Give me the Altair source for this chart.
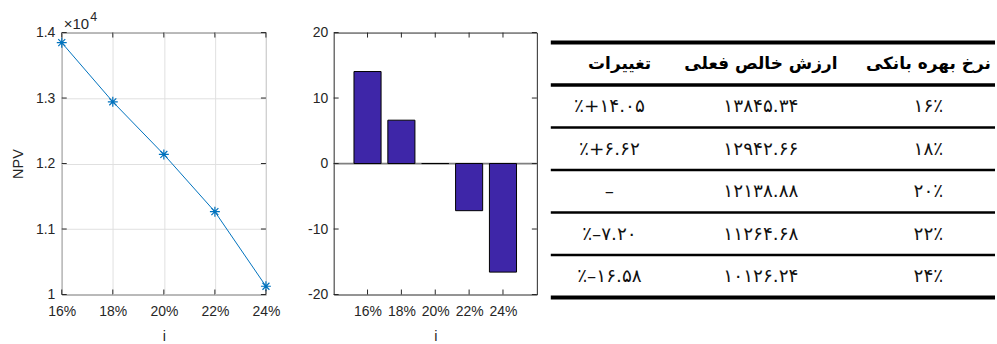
import altair as alt
import pandas as pd

# Bank interest rates (%) and the resulting net present value
rates = [16, 18, 20, 22, 24]
npv = [13845.34, 12942.66, 12138.88, 11264.68, 10126.24]
# Percentage change of NPV against the 20% base case
change = [14.05, 6.62, 0.0, -7.20, -16.58]

# Axis ticks
rate_ticks = [16, 18, 20, 22, 24]
npv_ticks = [10000, 11000, 12000, 13000, 14000]
change_ticks = [-20, -10, 0, 10, 20]

# Table header (left to right)
headers = ["تغییرات", "ارزش خالص فعلی", "نرخ بهره بانکی"]

FA = str.maketrans("0123456789", "۰۱۲۳۴۵۶۷۸۹")


def fa(s):
    return s.translate(FA)


rate_txt = [fa(str(r)) + "٪" for r in rates]
npv_txt = [fa(f"{v:.2f}") for v in npv]
change_txt = ["–" if c == 0 else "٪" + fa(f"{c:+.2f}").replace("-", "–") for c in change]

df = pd.DataFrame({"rate": rates, "npv": npv, "change": change})

# ---- layout constants -------------------------------------------------
H = 263
W1, W2, W3 = 205, 204, 392
INK = "#262626"
BLUE = "#0072BD"
BAR = "#3E26A8"
TICK = 5

axis_style = dict(
    labelFont="Liberation Sans", labelFontSize=14, labelColor=INK,
    titleFont="Liberation Sans", titleFontSize=14.5, titleColor=INK,
    titleFontWeight="normal", ticks=False, tickSize=0, domain=False,
    labelFlush=False,
)


def inward_ticks(xvals, yvals, xscale, yscale, w):
    """Short MATLAB-style ticks pointing into the plot box on all four sides."""
    tx = pd.DataFrame({"t": xvals})
    ty = pd.DataFrame({"t": yvals})
    base = dict(color=INK, strokeWidth=1)
    bottom = alt.Chart(tx).mark_rule(**base).encode(
        x=alt.X("t:Q", scale=xscale), y=alt.value(H), y2=alt.value(H - TICK))
    top = alt.Chart(tx).mark_rule(**base).encode(
        x=alt.X("t:Q", scale=xscale), y=alt.value(0), y2=alt.value(TICK))
    left = alt.Chart(ty).mark_rule(**base).encode(
        y=alt.Y("t:Q", scale=yscale), x=alt.value(0), x2=alt.value(TICK))
    right = alt.Chart(ty).mark_rule(**base).encode(
        y=alt.Y("t:Q", scale=yscale), x=alt.value(w), x2=alt.value(w - TICK))
    return [bottom, top, left, right]


# ---- NPV versus interest rate ----------------------------------------
x1 = alt.Scale(domain=[16, 24], nice=False, zero=False)
y1 = alt.Scale(domain=[10000, 14000], nice=False, zero=False)

x1_axis = alt.Axis(values=rate_ticks, labelExpr="datum.value + '%'", grid=True,
                   gridColor="#e0e0e0", labelPadding=10, titlePadding=11, **axis_style)
y1_axis = alt.Axis(values=npv_ticks, labelExpr="datum.value / 10000", grid=True,
                   gridColor="#e0e0e0", labelPadding=7, titlePadding=10, **axis_style)

line = alt.Chart(df).mark_line(color=BLUE, strokeWidth=1).encode(
    x=alt.X("rate:Q", scale=x1, axis=x1_axis, title="i"),
    y=alt.Y("npv:Q", scale=y1, axis=y1_axis, title="NPV"),
)
star = "M-1,0L1,0M0,-1L0,1M-0.7,-0.7L0.7,0.7M-0.7,0.7L0.7,-0.7"
points = alt.Chart(df).mark_point(shape=star, filled=False, size=100, color=BLUE,
                                  strokeWidth=1.2, opacity=1).encode(
    x=alt.X("rate:Q", scale=x1), y=alt.Y("npv:Q", scale=y1))

# Exponent note above the y axis: ×10^4
exp_base = alt.Chart(pd.DataFrame({"s": ["×10"]})).mark_text(
    align="left", baseline="alphabetic", font="Liberation Sans", fontSize=15, color=INK
).encode(text="s:N", x=alt.value(2), y=alt.value(-4))
exp_pow = alt.Chart(pd.DataFrame({"s": ["4"]})).mark_text(
    align="left", baseline="alphabetic", font="Liberation Sans", fontSize=12.5, color=INK
).encode(text="s:N", x=alt.value(28.5), y=alt.value(-12))

c1 = alt.layer(
    line, points, *inward_ticks(rate_ticks, npv_ticks, x1, y1, W1), exp_base, exp_pow
).properties(width=W1, height=H)

# ---- percentage change bars -------------------------------------------
x2 = alt.Scale(domain=[14, 26], nice=False, zero=False)
y2 = alt.Scale(domain=[-20, 20], nice=False, zero=False)

x2_axis = alt.Axis(values=rate_ticks, labelExpr="datum.value + '%'", grid=False,
                   labelPadding=10, titlePadding=11, **axis_style)
y2_axis = alt.Axis(values=change_ticks, labelExpr="datum.value + ''", grid=False,
                   labelPadding=6, **axis_style)

zero = alt.Chart(pd.DataFrame({"z": [0]})).mark_rule(color="#808080", strokeWidth=1.8).encode(
    y=alt.Y("z:Q", scale=y2, axis=y2_axis, title=None))
bars = alt.Chart(df).transform_calculate(
    lo="datum.rate - 0.8", hi="datum.rate + 0.8", base="0"
).mark_bar(color=BAR, stroke="black", strokeWidth=1, opacity=1).encode(
    x=alt.X("lo:Q", scale=x2, axis=x2_axis, title="i"),
    x2="hi:Q",
    y=alt.Y("change:Q", scale=y2, axis=y2_axis, title=None),
    y2="base:Q",
)

c2 = alt.layer(
    zero, bars, *inward_ticks(rate_ticks, change_ticks, x2, y2, W2)
).properties(width=W2, height=H)

# ---- summary table ----------------------------------------------------
tx = alt.Scale(domain=[0, 1], range=[-54, 392])
ty = alt.Scale(domain=[0, 6], range=[10, 266])

col_body = {"change": 0.132, "npv": 0.473, "rate": 0.850}
col_head = {"change": 0.155, "npv": 0.473, "rate": 0.850}

head_df = pd.DataFrame({
    "txt": headers,
    "cx": [col_head["change"], col_head["npv"], col_head["rate"]],
    "row": [0.5] * 3,
})
body_rows = []
for i in range(len(rates)):
    for key, txt in (("change", change_txt[i]), ("npv", npv_txt[i]), ("rate", rate_txt[i])):
        body_rows.append({"txt": txt, "cx": col_body[key], "row": i + 1.5})
body_df = pd.DataFrame(body_rows)

rule_df = pd.DataFrame({"k": list(range(len(rates) + 2))})


def rules(filter_expr, width):
    return alt.Chart(rule_df).transform_filter(filter_expr).transform_calculate(
        a="0", b="1"
    ).mark_rule(color="black", strokeWidth=width, strokeCap="butt").encode(
        x=alt.X("a:Q", scale=tx, axis=None), x2="b:Q",
        y=alt.Y("k:Q", scale=ty, axis=None),
    )


thick = rules("datum.k == 0 || datum.k == 6", 4)
mid = rules("datum.k == 1", 3.3)
thin = rules("datum.k > 1 && datum.k < 6", 2.6)

head_txt = alt.Chart(head_df).mark_text(
    font="DejaVu Sans", fontSize=17, fontWeight="bold", color="black", baseline="middle"
).encode(x=alt.X("cx:Q", scale=tx, axis=None), y=alt.Y("row:Q", scale=ty, axis=None), text="txt:N")
body_txt = alt.Chart(body_df).mark_text(
    font="DejaVu Sans", fontSize=18.5, color="#111111", baseline="middle"
).encode(x=alt.X("cx:Q", scale=tx, axis=None), y=alt.Y("row:Q", scale=ty, axis=None), text="txt:N")

c3 = alt.layer(thick, mid, thin, head_txt, body_txt).properties(
    width=W3, height=H, view=alt.ViewBackground(strokeOpacity=0))

chart = alt.hconcat(c1, c2, c3, spacing=68, bounds="flush").properties(
    padding={"left": 10, "top": 9, "right": 0, "bottom": 0}
).configure_view(stroke=INK, strokeWidth=1)

chart.save("out.html", embed_options={"renderer": "svg", "actions": False})
